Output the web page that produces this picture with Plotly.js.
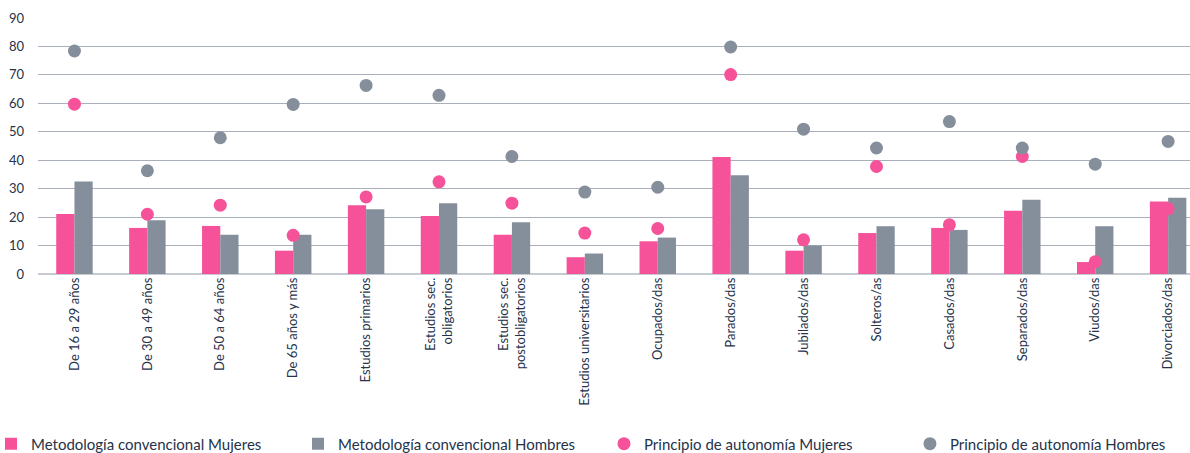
<!DOCTYPE html>
<html>
<head>
<meta charset="utf-8">
<script src="https://cdn.plot.ly/plotly-3.0.1.min.js"></script>
<style>html,body{margin:0;padding:0;background:#fff;}#chart{width:1190px;height:453px;}</style>
</head>
<body>
<div id="chart"></div>
<script>
const categories = [
  "De 16 a 29 años", "De 30 a 49 años", "De 50 a 64 años", "De 65 años y más",
  "Estudios primarios", "Estudios sec.<br>obligatorios", "Estudios sec.<br>postobligatorios",
  "Estudios universitarios", "Ocupados/das", "Parados/das", "Jubilados/das", "Solteros/as",
  "Casados/das", "Separados/das", "Viudos/das", "Divorciados/das"
];
const convMujeres  = [21.1, 16.2, 16.9, 8.2, 24.2, 20.4, 13.8, 5.9, 11.5, 41.1, 8.2, 14.4, 16.2, 22.2, 4.2, 25.5];
const convHombres  = [32.5, 18.9, 13.8, 13.8, 22.8, 24.9, 18.2, 7.2, 12.8, 34.7, 10.0, 16.8, 15.5, 26.1, 16.8, 26.8];
const autoMujeres  = [59.7, 21.0, 24.2, 13.6, 27.1, 32.4, 24.9, 14.4, 16.0, 70.1, 12.0, 37.8, 17.3, 41.3, 4.3, 22.9];
const autoHombres  = [78.4, 36.3, 47.9, 59.6, 66.3, 62.8, 41.3, 28.8, 30.5, 79.8, 50.9, 44.3, 53.6, 44.3, 38.6, 46.6];
const seriesNames = [
  "Metodología convencional Mujeres", "Metodología convencional Hombres",
  "Principio de autonomía Mujeres", "Principio de autonomía Hombres"
];
const yTicks = [0, 10, 20, 30, 40, 50, 60, 70, 80, 90];

const PINK = "#F5529A", GRAY = "#858F9C", TXT = "#26324A";

const traces = [
  {type: "bar", x: categories, y: convMujeres, name: seriesNames[0], marker: {color: PINK}, legend: "legend"},
  {type: "bar", x: categories, y: convHombres, name: seriesNames[1], marker: {color: GRAY}, legend: "legend2"},
  {type: "scatter", mode: "markers", x: categories, y: autoMujeres, name: seriesNames[2], marker: {color: PINK, size: 13}, legend: "legend3"},
  {type: "scatter", mode: "markers", x: categories, y: autoHombres, name: seriesNames[3], marker: {color: GRAY, size: 13}, legend: "legend4"}
];

const legBase = {orientation: "h", xref: "paper", yref: "container", y: 0.02, yanchor: "middle",
  xanchor: "left", font: {family: "Lato, sans-serif", size: 15, color: TXT}, bgcolor: "rgba(0,0,0,0)", itemwidth: 30};

const layout = {
  width: 1190, height: 453,
  margin: {l: 38, r: 0, t: 18, b: 179},
  paper_bgcolor: "#fff", plot_bgcolor: "#fff",
  font: {family: "Lato, sans-serif", color: TXT},
  barmode: "group", bargap: 0.5, bargroupgap: 0,
  xaxis: {type: "category", range: [-0.5, 15.3], tickangle: -90, tickfont: {size: 13, color: TXT}, showgrid: false,
          showline: false, ticks: "", automargin: false},
  yaxis: {range: [0, 90], tickvals: yTicks, ticktext: yTicks.map(String), tickfont: {size: 13, color: TXT},
          gridcolor: "#A9B0BC", gridwidth: 1, zeroline: true, zerolinecolor: "#C6CBD3", zerolinewidth: 2,
          showline: false, ticks: "", automargin: false, ticklabelstandoff: 13},
  showlegend: true,
  legend:  Object.assign({}, legBase, {x: -0.0412, indentation: -9}),
  legend2: Object.assign({}, legBase, {x: 0.2257}),
  legend3: Object.assign({}, legBase, {x: 0.4913}),
  legend4: Object.assign({}, legBase, {x: 0.7569})
};

Plotly.newPlot("chart", traces, layout, {displayModeBar: false, staticPlot: true});
</script>
</body>
</html>
